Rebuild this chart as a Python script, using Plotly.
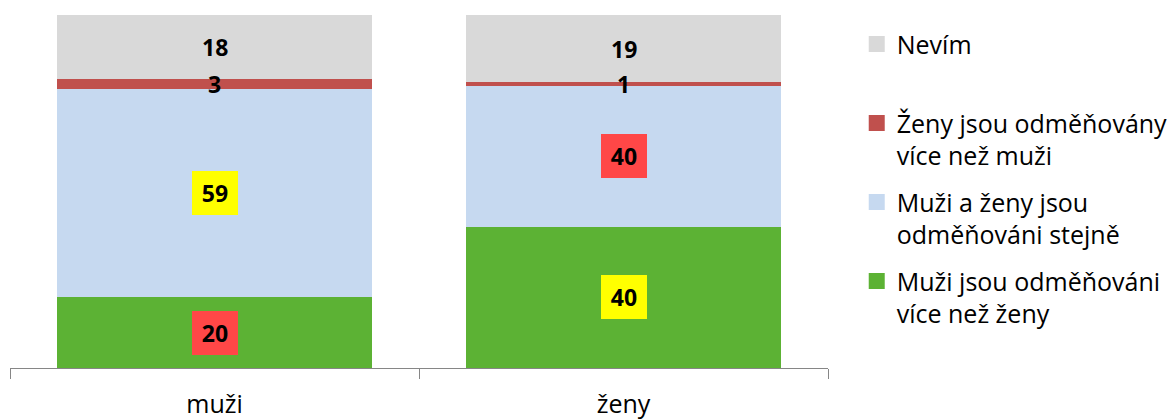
import numpy as np
import plotly.graph_objects as go

# categories and survey shares (%) per answer, bottom to top in each stack
categories = ["muži", "ženy"]
series_names = [
    "Muži jsou odměňováni<br>více než ženy",
    "Muži a ženy jsou<br>odměňováni stejně",
    "Ženy jsou odměňovány<br>více než muži",
    "Nevím<br>\u00a0",
]
values_more_men = [20, 40]
values_equal = [59, 40]
values_more_women = [3, 1]
values_unknown = [18, 19]

series_values = [values_more_men, values_equal, values_more_women, values_unknown]
series_colors = ["#5CB234", "#C6D9F0", "#C0504D", "#D9D9D9"]
# label background per series and category (None = no box)
label_bg = [
    ["#FF4747", "#FFFF00"],
    ["#FFFF00", "#FF4747"],
    [None, None],
    [None, None],
]

FONT = "'Open Sans', Lato, sans-serif"

fig = go.Figure()
for name, vals, color in zip(series_names, series_values, series_colors):
    fig.add_trace(go.Bar(
        x=categories, y=vals, name=name, showlegend=False,
        marker=dict(color=color, line=dict(width=0)),
        hoverinfo="skip",
    ))

# legend entries with larger square swatches, top of the stack listed first
for name, color in zip(series_names[::-1], series_colors[::-1]):
    fig.add_trace(go.Scatter(
        x=[None], y=[None], mode="markers", name=name,
        marker=dict(symbol="square", size=16, color=color),
        legendgroup=name,
    ))

# value labels centred in each stacked segment
stack = np.array(series_values, dtype=float)
tops = np.cumsum(stack, axis=0)
mids = tops - stack / 2
for i in range(stack.shape[0]):
    for j, cat in enumerate(categories):
        bg = label_bg[i][j]
        ann = dict(
            x=cat, y=mids[i, j], xref="x", yref="y",
            text=f"<b>{series_values[i][j]}</b>", showarrow=False,
            font=dict(family=FONT, size=23, color="#000000"),
            borderpad=0, borderwidth=0,
        )
        if bg:
            ann.update(bgcolor=bg, width=46, height=44)
        fig.add_annotation(**ann)

fig.update_layout(
    width=1172, height=419,
    margin=dict(l=10, r=344, t=15, b=51),
    barmode="stack", bargap=0.232,
    paper_bgcolor="white", plot_bgcolor="white",
    font=dict(family=FONT, color="#000000"),
    legend=dict(
        xref="container", yref="container",
        x=0.731, y=0.949, xanchor="left", yanchor="top",
        traceorder="grouped", valign="top",
        font=dict(family=FONT, size=25, color="#000000"),
        tracegroupgap=11, itemsizing="trace",
        bgcolor="rgba(0,0,0,0)", maxheight=1,
    ),
    xaxis=dict(
        range=[-0.5, 1.5], showline=True, linecolor="#868686", linewidth=1,
        ticks="outside", tickson="boundaries", ticklen=10, tickcolor="#868686",
        tickfont=dict(family=FONT, size=25, color="#000000"),
        ticklabelstandoff=14, automargin=False,
        showgrid=False, zeroline=False,
    ),
    yaxis=dict(range=[0, 100], visible=False),
)

fig.write_html("out.html")
